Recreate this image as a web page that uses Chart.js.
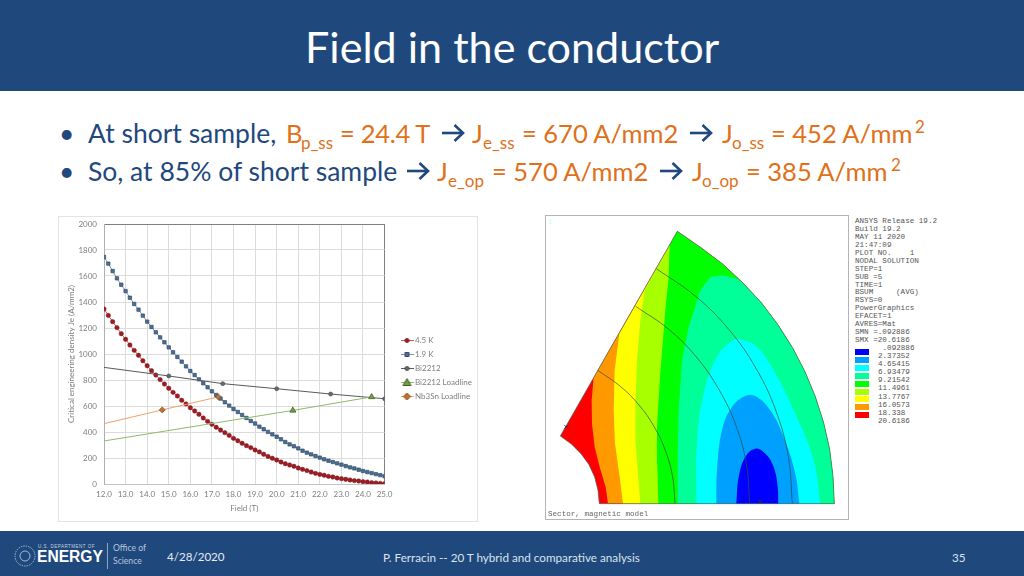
<!DOCTYPE html>
<html>
<head>
<meta charset="utf-8">
<title>Field in the conductor</title>
<script src="https://cdn.jsdelivr.net/npm/chart.js@4"></script>
<style>
  html, body { margin: 0; padding: 0; background: #fff; }
  body { width: 1024px; height: 576px; overflow: hidden; position: relative; font-family: Lato, sans-serif; }
  .abs { position: absolute; white-space: pre; }
  #head { left: 0; top: 0; width: 1024px; height: 91px; background: #1f497d; }
  #foot { left: 0; top: 531px; width: 1024px; height: 45px; background: #1f497d; }
  #title { left: 305px; top: 21px; font-size: 43.1px; line-height: 50px; color: #fff; }
  .t { font-size: 25.5px; line-height: 32px; }
  .t.b { font-size: 26.5px; }
  .b { color: #1f497d; }
  .o { color: #e0701a; }
  .s { font-size: 17px; line-height: 20px; }
  .ft { font-size: 11.7px; line-height: 14px; color: #dbe3ee; }
  #mainBox { left: 58px; top: 216px; width: 418px; height: 304px; border: 1px solid #e4e4e4; }
  #feBox { left: 545px; top: 215px; width: 302px; height: 303px; border: 1px solid #b4b4b4; }
  .mono { font-family: "Liberation Mono", monospace; font-size: 7.6px; color: #555; }
  .swatch { position: absolute; left: 855px; width: 14px; height: 6px; }
</style>
</head>
<body>
<div class="abs" id="head"></div>
<div class="abs" id="foot"></div>
<div class="abs" id="title">Field in the conductor</div>

<svg width="0" height="0" style="position:absolute"><defs><g id="arrow" fill="none" stroke="#1f497d" stroke-width="2.6"><path d="M0 9H21"/><path d="M12.5 1L21 9L12.5 17"/></g></defs></svg>

<div class="abs t b" style="left:59px;top:117px">•</div>
<div class="abs t b" style="left:88px;top:117px">At short sample,</div>
<div class="abs t o" style="left:286px;top:117px">B</div>
<div class="abs s o" style="left:301px;top:133px">p_ss</div>
<div class="abs t o" style="left:340px;top:117px;letter-spacing:-.3px">= 24.4 T</div>
<svg class="abs" style="left:442px;top:124px" width="23" height="18"><use href="#arrow"/></svg>
<div class="abs t o" style="left:472px;top:117px">J</div>
<div class="abs s o" style="left:483px;top:133px">e_ss</div>
<div class="abs t o" style="left:522px;top:117px">= 670 A/mm2</div>
<svg class="abs" style="left:690px;top:124px" width="23" height="18"><use href="#arrow"/></svg>
<div class="abs t o" style="left:722px;top:117px">J</div>
<div class="abs s o" style="left:732px;top:133px">o_ss</div>
<div class="abs t o" style="left:771px;top:117px">= 452 A/mm</div>
<div class="abs s o" style="left:915px;top:117px">2</div>

<div class="abs t b" style="left:59px;top:155px">•</div>
<div class="abs t b" style="left:88px;top:155px">So, at 85% of short sample</div>
<svg class="abs" style="left:407px;top:162px" width="23" height="18"><use href="#arrow"/></svg>
<div class="abs t o" style="left:437px;top:155px">J</div>
<div class="abs s o" style="left:448px;top:171px">e_op</div>
<div class="abs t o" style="left:492px;top:155px">= 570 A/mm2</div>
<svg class="abs" style="left:660px;top:162px" width="23" height="18"><use href="#arrow"/></svg>
<div class="abs t o" style="left:692px;top:155px">J</div>
<div class="abs s o" style="left:702px;top:171px">o_op</div>
<div class="abs t o" style="left:746px;top:155px">= 385 A/mm</div>
<div class="abs s o" style="left:891px;top:155px">2</div>

<div class="abs" id="mainBox"><canvas id="fieldChart" width="418" height="304"></canvas></div>
<div class="abs" id="feBox"><canvas id="sectorChart" width="302" height="303"></canvas></div>

<div class="abs mono" style="left:855px;top:218px;line-height:7.93px">ANSYS Release 19.2
Build 19.2
MAY 11 2020
21:47:09
PLOT NO.    1
NODAL SOLUTION
STEP=1
SUB =5
TIME=1
BSUM     (AVG)
RSYS=0
PowerGraphics
EFACET=1
AVRES=Mat
SMN =.092886
SMX =20.6186</div>
<div class="abs mono" style="left:878px;top:344px;line-height:8.1px"> .092886
2.37352
4.65415
6.93479
9.21542
11.4961
13.7767
16.0573
18.338
20.6186</div>
<div id="swatches"></div>

<svg class="abs" style="left:13px;top:544px" width="24" height="24"><circle cx="12" cy="12" r="10" fill="none" stroke="#a9b9cd" stroke-width="1" stroke-dasharray="1.5 1"/><circle cx="12" cy="12" r="5" fill="none" stroke="#a9b9cd" stroke-width="1"/></svg>
<div class="abs" style="left:38px;top:544px;font:4.5px/6px 'Liberation Sans';letter-spacing:.5px;color:#c6d1df">U.S. DEPARTMENT OF</div>
<div class="abs" style="left:37px;top:546px;font:bold 15.6px/22px 'Liberation Sans';color:#fff">ENERGY</div>
<div class="abs" style="left:107px;top:543px;width:1px;height:26px;background:#8ea3bd"></div>
<div class="abs" style="left:113px;top:542px;font:8.6px/13px Lato;color:#b8c6d8">Office of
Science</div>
<div class="abs" style="left:167px;top:549px;font-size:11.6px;line-height:15px;color:#e6ebf2">4/28/2020</div>
<div class="abs ft" style="left:383px;top:550px">P. Ferracin -- 20 T hybrid and comparative analysis</div>
<div class="abs ft" style="left:952px;top:550px">35</div>

<script>
// values
const fieldValues = [12.0,12.2,12.4,12.6,12.8,13.0,13.2,13.4,13.6,13.8,14.0,14.2,14.4,14.6,14.8,15.0,15.2,15.4,15.6,15.8,16.0,16.2,16.4,16.6,16.8,17.0,17.2,17.4,17.6,17.8,18.0,18.2,18.4,18.6,18.8,19.0,19.2,19.4,19.6,19.8,20.0,20.2,20.4,20.6,20.8,21.0,21.2,21.4,21.6,21.8,22.0,22.2,22.4,22.6,22.8,23.0,23.2,23.4,23.6,23.8,24.0,24.2,24.4,24.6,24.8,25.0];
const je45K = [1346,1297,1249,1203,1156,1113,1069,1028,990,948,910,872,838,803,769,736,705,677,644,616,587,562,536,508,482,459,436,415,395,374,351,333,313,295,280,262,247,229,212,198,185,169,156,146,136,123,113,103,92,82,74,67,59,54,46,41,36,31,26,23,18,15,10,8,5,3];
const je19K = [1746,1695,1638,1582,1533,1484,1433,1385,1341,1295,1249,1208,1167,1128,1090,1051,1013,977,941,905,869,838,805,775,744,713,685,657,629,603,577,554,531,508,485,465,441,421,401,382,364,344,323,305,290,274,256,241,228,215,203,190,179,169,159,149,138,128,120,110,100,92,84,76,68,60];
const bi2212Field = [12, 15, 17.5, 20, 22.5, 25];
const bi2212Je = [897, 831, 772, 733, 692, 656];
const biLoadField = [12, 20.75, 24.4];
const biLoadJe = [331, 566, 670];
const nbLoadField = [12, 14.7, 17.3];
const nbLoadJe = [464, 570, 670];

// sector picture, in picture units
const outerArc = [[411,63],[482,112],[547,161],[607,217],[663,277],[712,342],[756,411],[794,484],[825,559],[850,637],[868,717],[878,798],[882,880]];
const innerArc = [[177,880],[173,840],[163,800],[146,763],[122,730],[94,702],[60,677]];
const arc1 = [[404,880],[397,800],[376,723],[342,650],[296,584],[240,528],[172,480]];
const arc2 = [[628,880],[618,761],[587,646],[536,538],[468,440],[384,356],[286,288]];
const arc3 = [[756,880],[744,739],[707,602],[647,474],[566,358],[466,258],[348,175]];
const orangeEdge = [[203,880],[196,830],[178,770],[163,710],[155,640],[154,570],[160,500]];
const yellowEdge = [[248,880],[238,800],[224,700],[220,600],[223,480],[237,370]];
const limeEdge = [[300,880],[293,790],[286,700],[285,580],[290,450],[300,330],[313,240]];
const greenEdge = [[354,880],[351,760],[350,650],[359,500],[375,300],[385,200],[388,105]];
const springEdge = [[410,880],[412,740],[415,600],[425,450],[445,350],[480,240],[510,200],[545,195],[590,205],[607,217]];
const cyanDome = [[468,880],[470,700],[490,550],[530,440],[575,392],[605,388],[650,410],[700,480],[760,600],[820,750],[840,880]];
const skyDome = [[528,880],[530,780],[545,660],[575,590],[620,555],[650,560],[690,600],[730,680],[765,790],[777,880]];
const blueDome = [[588,880],[595,800],[615,740],[645,715],[675,730],[700,770],[712,830],[714,880]];
const bandColors = ["#ff0000","#ff9900","#ffff00","#a8ff00","#00ff00","#00ff99","#00ffff","#00a0ff","#0000ff"];
const swatchTops = [349,357,365,373,381,389,396,404,412];
const swatchColors = ["#0000ff","#00a0ff","#00ffff","#00ff99","#00ff00","#a8ff00","#ffff00","#ff9900","#ff0000"];

const toXY = (xs, ys) => xs.map((x, i) => ({ x: x, y: ys[i] }));
const toPts = (list) => list.map((p) => ({ x: p[0], y: p[1] }));

const tickFont = { family: "Lato", size: 8 };
const gray = "#7f7f7f";

// little line + marker icon for each legend row
function legendIcon(line, fill, stroke, kind) {
  const c = document.createElement("canvas");
  c.width = 13; c.height = 9;
  const g = c.getContext("2d");
  g.strokeStyle = line; g.lineWidth = 1;
  g.beginPath(); g.moveTo(0, 4.5); g.lineTo(13, 4.5); g.stroke();
  g.fillStyle = fill; g.strokeStyle = stroke;
  g.beginPath();
  if (kind === "circle") g.arc(6.5, 4.5, 2, 0, Math.PI * 2);
  if (kind === "rect") g.rect(4.5, 2.5, 4, 4);
  if (kind === "triangle") { g.moveTo(6.5, 0.5); g.lineTo(10.5, 7.5); g.lineTo(2.5, 7.5); g.closePath(); }
  if (kind === "diamond") { g.moveTo(6.5, 1); g.lineTo(10, 4.5); g.lineTo(6.5, 8); g.lineTo(3, 4.5); g.closePath(); }
  g.fill(); g.stroke();
  return c;
}
const icons = [
  legendIcon("#e5524f", "#9c1c24", "#7d1a20", "circle"),
  legendIcon("#7f93a8", "#44709c", "#3a4d62", "rect"),
  legendIcon("#595959", "#5f6f70", "#444", "circle"),
  legendIcon("#8dbb6a", "#6f9e4f", "#3d5a1d", "triangle"),
  legendIcon("#f0a06a", "#c5702a", "#7f4a1a", "diamond"),
];

new Chart(document.getElementById("fieldChart"), {
  type: "scatter",
  data: {
    datasets: [
      { label: "4.5 K", data: toXY(fieldValues, je45K), showLine: true, order: 5, borderColor: "#e5524f", borderWidth: 1,
        pointStyle: "circle", pointRadius: 2.2, pointBackgroundColor: "#9c1c24", pointBorderColor: "#7d1a20", pointBorderWidth: 0.5 },
      { label: "1.9 K", data: toXY(fieldValues, je19K), showLine: true, order: 4, borderColor: "#7f93a8", borderWidth: 1,
        pointStyle: "rect", pointRadius: 2.4, pointBackgroundColor: "#44709c", pointBorderColor: "#3a4d62", pointBorderWidth: 0.7 },
      { label: "Bi2212", data: toXY(bi2212Field, bi2212Je), showLine: true, order: 3, borderColor: "#595959", borderWidth: 1,
        pointStyle: "circle", pointRadius: [0, 2, 2, 2, 2, 2], pointBackgroundColor: "#5f6f70", pointBorderColor: "#444", pointBorderWidth: 0.6 },
      { label: "Bi2212 Loadline", data: toXY(biLoadField, biLoadJe), showLine: true, order: 2, borderColor: "#8dbb6a", borderWidth: 1,
        pointStyle: "triangle", pointRadius: [0, 3.5, 3.5], pointBackgroundColor: "#6f9e4f", pointBorderColor: "#3d5a1d", pointBorderWidth: 0.7 },
      { label: "Nb3Sn Loadline", data: toXY(nbLoadField, nbLoadJe), showLine: true, order: 1, borderColor: "#f0a06a", borderWidth: 1,
        pointStyle: "rectRot", pointRadius: [0, 3, 3], pointBackgroundColor: "#c5702a", pointBorderColor: "#7f4a1a", pointBorderWidth: 0.7 },
    ],
  },
  options: {
    responsive: false,
    animation: false,
    layout: { padding: { top: 7, right: 7.5, left: 0, bottom: 0 }, autoPadding: false },
    scales: {
      x: {
        type: "linear", min: 12, max: 25,
        afterFit: (s) => { s.height = 37; },
        grid: { color: (c) => (c.tick.value === 25 ? "#808080" : "#dcdcdc"), lineWidth: 1, drawTicks: false },
        border: { color: "#c4c4c4" },
        ticks: { stepSize: 1, autoSkip: false, maxRotation: 0, padding: 6, color: gray, font: tickFont, callback: (v) => v.toFixed(1) },
        title: { display: true, text: "Field (T)", color: gray, font: tickFont, padding: { top: 0, bottom: 8 } },
      },
      y: {
        min: 0, max: 2000,
        afterFit: (s) => { s.width = 45; s.paddingTop = 0; s.paddingBottom = 0; },
        grid: { color: (c) => (c.tick.value === 2000 ? "#808080" : "#dcdcdc"), lineWidth: 1, drawTicks: false },
        border: { color: "#b0b0b0" },
        ticks: { stepSize: 200, padding: 7, color: gray, font: tickFont, callback: (v) => String(v) },
        title: { display: true, text: "Critical engineering density Je (A/mm2)", color: gray, font: tickFont, padding: { top: 8, bottom: 0 } },
      },
    },
    plugins: {
      tooltip: { enabled: false },
      legend: {
        position: "right",
        labels: {
          color: gray, font: tickFont, usePointStyle: true, padding: 6,
          sort: (a, b) => a.datasetIndex - b.datasetIndex,
          generateLabels: (chart) => Chart.defaults.plugins.legend.labels.generateLabels(chart).map((item) => {
            item.pointStyle = icons[item.datasetIndex];
            return item;
          }),
        },
      },
    },
  },
  plugins: [{
    id: "legendSpot",
    afterLayout(chart) {
      chart.legend.left = 338;
      chart.legend.right = 418;
      chart.legend.top -= 4;
      chart.legend.bottom -= 4;
    },
  }],
});

// sector contour plot
function band(points, color, order, tension) {
  return { data: toPts(points), showLine: true, fill: "shape", backgroundColor: color, borderColor: color, borderWidth: 0, pointRadius: 0, tension: tension || 0, order: order };
}
function curve(points, order) {
  return { data: toPts(points), showLine: true, fill: false, borderColor: "#3c4a3c", borderWidth: 0.7, pointRadius: 0, tension: 0.4, order: order };
}
const wedge = innerArc.concat(outerArc);
const rim = (edge) => edge.concat(outerArc);
const sectorSets = [
  band(wedge, bandColors[0], 20),
  band(rim(orangeEdge), bandColors[1], 19),
  band(rim(yellowEdge), bandColors[2], 18),
  band(rim(limeEdge), bandColors[3], 17),
  band(rim(greenEdge), bandColors[4], 16),
  band(springEdge.concat(outerArc.slice(4)), bandColors[5], 15),
  band(cyanDome, bandColors[6], 14, 0.4),
  band(skyDome, bandColors[7], 13, 0.4),
  band(blueDome, bandColors[8], 12, 0.4),
  curve(arc1, 5),
  curve(arc2, 4),
  curve(arc3, 3),
  { data: toPts(wedge.concat([[177,880]])), showLine: true, fill: false, borderColor: "#50605a", borderWidth: 0.7, pointRadius: 0, order: 2 },
  { data: toPts([[78,650],[660,873]]), showLine: false, pointStyle: "crossRot", pointRadius: 2.5, pointBorderColor: "#333", pointBorderWidth: 1, order: 1 },
];

new Chart(document.getElementById("sectorChart"), {
  type: "scatter",
  data: { datasets: sectorSets },
  options: {
    responsive: false,
    animation: false,
    layout: { padding: 0, autoPadding: false },
    scales: {
      x: { type: "linear", min: 17, max: 923, display: false },
      y: { type: "linear", min: 17, max: 926, reverse: true, display: false },
    },
    plugins: { legend: { display: false }, tooltip: { enabled: false } },
  },
});

// contour legend swatches
swatchTops.forEach((top, i) => {
  const d = document.createElement("div");
  d.className = "swatch";
  d.style.top = top + "px";
  d.style.background = swatchColors[i];
  document.getElementById("swatches").appendChild(d);
});
</script>
<div class="abs mono" style="left:548px;top:510px;color:#666">Sector, magnetic model</div>
<div class="abs mono" style="left:548px;top:218px;color:#bff">1</div>
</body>
</html>
